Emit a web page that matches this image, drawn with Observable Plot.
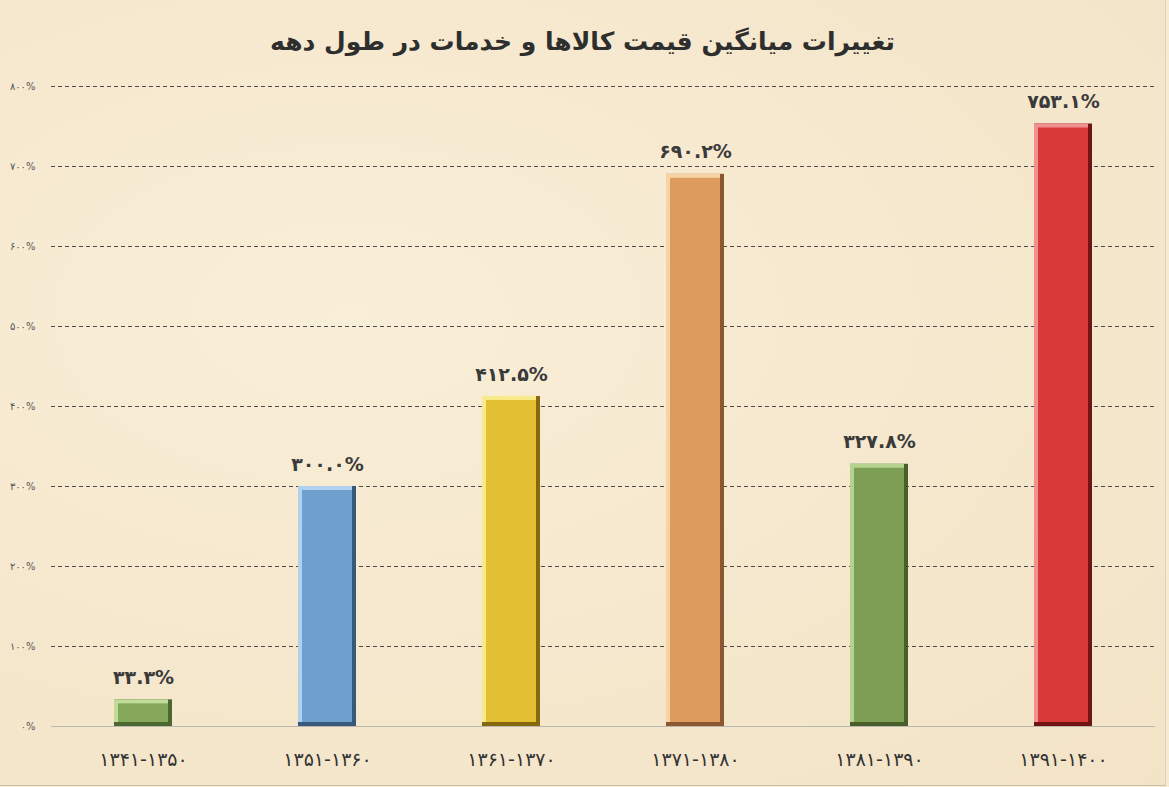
<!DOCTYPE html>
<html>
<head>
<meta charset="utf-8">
<script src="https://cdn.jsdelivr.net/npm/d3@7"></script>
<script src="https://cdn.jsdelivr.net/npm/@observablehq/plot@0.6"></script>
<style>
  html, body { margin: 0; padding: 0; background: #f7ebd2; }
  #wrap { width: 1165px; height: 785px; border-right: 1px solid #d8d0c0; border-bottom: 1px solid #c8c0b0; position: relative;
    background: radial-gradient(ellipse at 30% 40%, #f9eed8 0%, #f5e7cc 60%, #f3e4c8 100%); }
  #title { height: 70px; line-height: 84px; text-align: center; direction: rtl; font-family: "DejaVu Sans", sans-serif;
    font-weight: bold; font-size: 25px; color: #2e2e2e; }
  svg { display: block; }
</style>
</head>
<body>
<div id="wrap">
  <div id="title">تغییرات میانگین قیمت کالاها و خدمات در طول دهه</div>
  <div id="chart"></div>
</div>
<script>
const periods = ["1341-1350", "1351-1360", "1361-1370", "1371-1380", "1381-1390", "1391-1400"];
const values = [33.3, 300.0, 412.5, 690.2, 327.8, 753.1];
const mainColors = ["#86a85a", "#6f9fcf", "#e3bf33", "#de9b5e", "#7d9f55", "#d83a3a"];
const lightColors = ["#c0dc98", "#b0d2ee", "#f8ea88", "#f6d2a4", "#b5d38e", "#f29090"];
const darkColors = ["#4c6730", "#37597a", "#86690f", "#8a5730", "#485f2c", "#731414"];
const yTicks = [0, 100, 200, 300, 400, 500, 600, 700, 800];

const fa = s => String(s).replace(/[0-9]/g, d => "۰۱۲۳۴۵۶۷۸۹"[+d]);

const data = periods.map((p, i) => ({
  period: p, value: values[i], main: mainColors[i], light: lightColors[i], dark: darkColors[i]
}));

const chart = Plot.plot({
  width: 1165,
  height: 715,
  marginTop: 16,
  marginBottom: 59,
  marginLeft: 51,
  marginRight: 10,
  style: { background: "transparent", fontFamily: "DejaVu Sans, sans-serif" },
  x: { domain: periods, paddingInner: 0.685, paddingOuter: 0.3425, label: null },
  y: { domain: [0, 800], label: null },
  marks: [
    Plot.ruleY(yTicks.filter(d => d > 0), { stroke: "#222", strokeDasharray: "4,3", strokeWidth: 0.8 }),
    Plot.ruleY([0], { stroke: "#b8b8b0", strokeWidth: 1 }),
    Plot.axisY({ ticks: yTicks, tickSize: 0, tickPadding: 16, fontSize: 10, fill: "#555",
      tickFormat: d => fa(d) + "%", label: null }),
    Plot.axisX({ tickSize: 0, tickPadding: 26, fontSize: 19, fill: "#333",
      tickFormat: d => fa(d), label: null }),
    Plot.barY(data, { x: "period", y: "value", fill: d => d.dark }),
    Plot.barY(data, { x: "period", y: "value", fill: d => d.light, insetRight: 4, insetBottom: 4 }),
    Plot.barY(data, { x: "period", y: "value", fill: d => d.main, insetLeft: 4, insetRight: 4, insetTop: 4, insetBottom: 4 }),
    Plot.text(data, { x: "period", y: "value", text: d => fa(d.value.toFixed(1)) + "%", dy: -22,
      fontSize: 19, fontWeight: "bold", fill: "#3a3a3a" })
  ]
});
document.getElementById("chart").appendChild(chart);
</script>
</body>
</html>
